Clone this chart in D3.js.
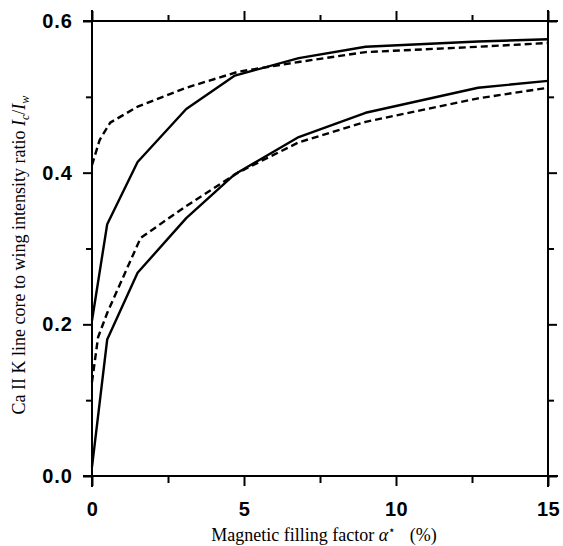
<!DOCTYPE html>
<html>
<head>
<meta charset="utf-8">
<script src="https://cdn.jsdelivr.net/npm/d3@7"></script>
<style>
  body { margin: 0; background: #fff; }
  .tick text { font-family: "Liberation Sans", Arial, sans-serif; font-weight: bold; }
</style>
</head>
<body>
<svg id="chart" width="563" height="546"></svg>
<script>
// filling factor (%) and intensity ratios
let xSolid = [0, 0.5, 1.5, 3.1, 4.7, 6.8, 9.0, 12.7, 15];
let upperSolid = [0.205, 0.332, 0.414, 0.484, 0.528, 0.551, 0.566, 0.573, 0.576];
let lowerSolid = [0.012, 0.18, 0.268, 0.34, 0.398, 0.447, 0.479, 0.512, 0.521];

let xDashUp = [0, 0.25, 0.6, 1.5, 3.1, 4.8, 6.8, 9.0, 12.7, 15];
let upperDash = [0.41, 0.443, 0.466, 0.487, 0.512, 0.533, 0.546, 0.559, 0.566, 0.571];
let xDashLow = [0, 0.2, 0.5, 1.6, 3.1, 4.8, 6.8, 9.0, 12.7, 15];
let lowerDash = [0.124, 0.183, 0.215, 0.314, 0.356, 0.40, 0.44, 0.467, 0.498, 0.512];

let xMajor = [0, 5, 10, 15];
let xMinor = [2.5, 7.5, 12.5];
let yMajor = [0, 0.2, 0.4, 0.6];
let yMinor = [0.1, 0.3, 0.5];

let svg = d3.select("#chart");
let mLeft = 92, mRight = 548, mTop = 21, mBottom = 476;

let xScale = d3.scaleLinear().domain([0, 15]).range([mLeft, mRight]);
let yScale = d3.scaleLinear().domain([0, 0.6]).range([mBottom, mTop]);

// frame with overhanging corners
let frame = svg.append("g").attr("stroke", "#000").attr("stroke-width", 2);
frame.append("line").attr("x1", mLeft).attr("x2", mLeft).attr("y1", mTop - 11).attr("y2", mBottom + 11);
frame.append("line").attr("x1", mRight).attr("x2", mRight).attr("y1", mTop - 11).attr("y2", mBottom + 11);
frame.append("line").attr("x1", mLeft - 9).attr("x2", mRight + 10).attr("y1", mTop).attr("y2", mTop);
frame.append("line").attr("x1", mLeft - 9).attr("x2", mRight + 10).attr("y1", mBottom).attr("y2", mBottom);

function styleAxis(g) {
    g.select(".domain").remove();
    g.selectAll(".tick line").attr("stroke", "#000").attr("stroke-width", 2);
}

// major ticks with labels
svg.append("g")
    .attr("transform", "translate(0," + mBottom + ")")
    .call(d3.axisBottom(xScale).tickValues(xMajor).tickSize(10).tickPadding(16).tickFormat(d3.format("d")))
    .call(styleAxis)
    .selectAll("text").attr("font-size", 20).attr("fill", "#000").attr("letter-spacing", 0.5);

svg.append("g")
    .attr("transform", "translate(" + mLeft + ",0)")
    .call(d3.axisLeft(yScale).tickValues(yMajor).tickSize(9).tickPadding(10).tickFormat(d3.format(".1f")))
    .call(styleAxis)
    .selectAll("text").attr("font-size", 20).attr("fill", "#000").attr("letter-spacing", 1);

svg.append("g")
    .attr("transform", "translate(0," + mTop + ")")
    .call(d3.axisTop(xScale).tickValues(xMajor).tickSize(10).tickFormat(""))
    .call(styleAxis);

svg.append("g")
    .attr("transform", "translate(" + mRight + ",0)")
    .call(d3.axisRight(yScale).tickValues(yMajor).tickSize(9).tickFormat(""))
    .call(styleAxis);

// minor ticks
svg.append("g").attr("transform", "translate(0," + mBottom + ")")
    .call(d3.axisBottom(xScale).tickValues(xMinor).tickSize(7).tickFormat("")).call(styleAxis);
svg.append("g").attr("transform", "translate(0," + mTop + ")")
    .call(d3.axisTop(xScale).tickValues(xMinor).tickSize(6).tickFormat("")).call(styleAxis);
svg.append("g").attr("transform", "translate(" + mLeft + ",0)")
    .call(d3.axisLeft(yScale).tickValues(yMinor).tickSize(6).tickFormat("")).call(styleAxis);
svg.append("g").attr("transform", "translate(" + mRight + ",0)")
    .call(d3.axisRight(yScale).tickValues(yMinor).tickSize(6).tickFormat("")).call(styleAxis);

// curves
let line = d3.line()
    .x((d) => xScale(d[0]))
    .y((d) => yScale(d[1]));

let curves = [
    { x: xSolid, y: upperSolid, dash: null },
    { x: xSolid, y: lowerSolid, dash: null },
    { x: xDashUp, y: upperDash, dash: "7,4" },
    { x: xDashLow, y: lowerDash, dash: "7,4" },
];

curves.forEach((c) => {
    svg.append("path")
        .attr("fill", "none")
        .attr("stroke", "#000")
        .attr("stroke-width", 2.4)
        .attr("stroke-linejoin", "round")
        .attr("stroke-dasharray", c.dash)
        .attr("d", line(c.x.map((v, i) => [v, c.y[i]])));
});

// axis titles
let xTitle = svg.append("text")
    .attr("x", 324)
    .attr("y", 541)
    .attr("text-anchor", "middle")
    .attr("font-family", "Liberation Serif, serif")
    .attr("font-size", 18);
xTitle.append("tspan").text("Magnetic filling factor ");
xTitle.append("tspan").attr("font-style", "italic").text("α");
xTitle.append("tspan").attr("font-size", 12).attr("dy", -7).text("⋆");
xTitle.append("tspan").attr("dy", 7).text("\u2002 (%)");

let yTitle = svg.append("text")
    .attr("transform", "translate(25,255) rotate(-90)")
    .attr("text-anchor", "middle")
    .attr("font-family", "Liberation Serif, serif")
    .attr("font-size", 18);
yTitle.append("tspan").text("Ca II K line core to wing intensity ratio ");
yTitle.append("tspan").attr("font-style", "italic").text("I");
yTitle.append("tspan").attr("font-style", "italic").attr("font-size", 12).attr("dy", 4).text("c");
yTitle.append("tspan").attr("dy", -4).text("/");
yTitle.append("tspan").attr("font-style", "italic").text("I");
yTitle.append("tspan").attr("font-style", "italic").attr("font-size", 12).attr("dy", 4).text("w");
</script>
</body>
</html>
